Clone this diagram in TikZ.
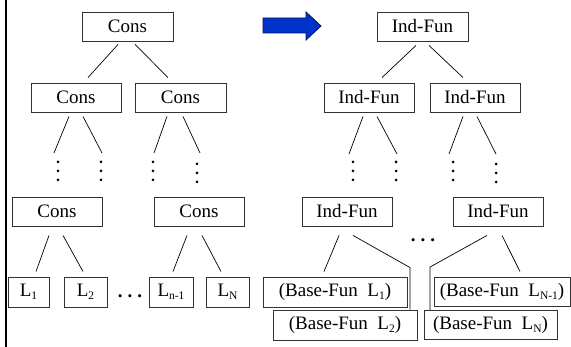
\documentclass[tikz,border=0pt]{standalone}
\usepackage{fontspec}
\setmainfont{Liberation Serif}
\newfontfamily\tnr{Liberation Serif}
\newcommand\lsub[1]{\raisebox{-0.35ex}{\fontsize{11.5}{12}\selectfont #1}}
\begin{document}
\begin{tikzpicture}[x=1pt,y=-1pt,
  box/.style={draw=black!80,line width=0.9pt,inner sep=0pt,minimum height=29pt,
    font=\tnr\fontsize{19}{21}\selectfont},
  conn/.style={line width=0.7pt,black},
  dotmark/.style={fill=black}]
\useasboundingbox (0,0) rectangle (571,347);
% left rule
\draw[line width=2.5pt] (6,0) -- (6,347);
% blue arrow
\filldraw[fill={rgb,255:red,0;green,51;blue,204},draw={rgb,255:red,0;green,20;blue,90},line width=0.8pt]
  (263,18) -- (306,18) -- (306,12) -- (321,26) -- (306,40) -- (306,33) -- (263,33) -- cycle;

% ---------------- left tree ----------------
\node[box,minimum width=91pt] (c1) at (127.5,26.5) {Cons};
\node[box,minimum width=90pt] (c2l) at (76,97.5) {Cons};
\node[box,minimum width=91pt] (c2r) at (180.5,97.5) {Cons};
\node[box,minimum width=90pt] (c3l) at (57,211.5) {Cons};
\node[box,minimum width=90pt] (c3r) at (199,211.5) {Cons};
\node[box,minimum width=41pt,minimum height=30pt] (l1) at (28.5,292) {L\lsub{1}};
\node[box,minimum width=43pt,minimum height=30pt] (l2) at (85.5,292) {L\lsub{2}};
\node[box,minimum width=44pt,minimum height=30pt] (ln1) at (171,292) {L\lsub{n-1}};
\node[box,minimum width=43pt,minimum height=30pt] (ln) at (227.5,292) {L\lsub{N}};
\node[font=\tnr\fontsize{19}{20}\bfseries] (ldots) at (130,296) {.\hspace{5pt}.\hspace{5pt}.};

% dot columns
\coordinate (d1) at (58,171);
\coordinate (d2) at (101,171);
\coordinate (d3) at (153,171);
\coordinate (d4) at (197,173);
\coordinate (e1) at (353,171);
\coordinate (e2) at (396,171);
\coordinate (e3) at (453,171);
\coordinate (e4) at (496,173);
\foreach \d in {d1,d2,d3,d4,e1,e2,e3,e4}{
  \foreach \dy in {-9,0,9}{
    \fill[dotmark] ([yshift=\dy pt]\d) circle (1.5pt);
  }
}

\draw[conn] ([xshift=-9.5pt,yshift=-3pt]c1.south) -- ([xshift=12pt,yshift=5pt]c2l.north);
\draw[conn] ([xshift=7.5pt,yshift=-3pt]c1.south) -- ([xshift=-12.5pt,yshift=5pt]c2r.north);
\draw[conn] ([xshift=-7pt,yshift=-4pt]c2l.south) -- ([xshift=-4pt,yshift=18pt]d1);
\draw[conn] ([xshift=7pt,yshift=-4pt]c2l.south) -- ([xshift=1pt,yshift=18pt]d2);
\draw[conn] ([xshift=-13.5pt,yshift=-4pt]c2r.south) -- ([xshift=1pt,yshift=18pt]d3);
\draw[conn] ([xshift=2.5pt,yshift=-4pt]c2r.south) -- ([xshift=3pt,yshift=20pt]d4);
\draw[conn] ([xshift=-8pt,yshift=-9pt]c3l.south) -- ([xshift=7.5pt,yshift=5pt]l1.north);
\draw[conn] ([xshift=6pt,yshift=-9pt]c3l.south) -- ([xshift=-2.5pt,yshift=5pt]l2.north);
\draw[conn] ([xshift=-12pt,yshift=-9pt]c3r.south) -- ([xshift=2pt,yshift=5pt]ln1.north);
\draw[conn] ([xshift=3pt,yshift=-9pt]c3r.south) -- ([xshift=-6.5pt,yshift=5pt]ln.north);

% ---------------- right tree ----------------
\node[box,minimum width=91pt] (f1) at (422.5,26.5) {Ind-Fun};
\node[box,minimum width=90pt] (f2l) at (369,97.5) {Ind-Fun};
\node[box,minimum width=90pt] (f2r) at (475,97.5) {Ind-Fun};
\node[box,minimum width=90pt] (f3l) at (347,211.5) {Ind-Fun};
\node[box,minimum width=90pt] (f3r) at (498,211.5) {Ind-Fun};
\node[box,minimum width=144pt,minimum height=30pt] (b1) at (335,292) {(Base-Fun\ \ L\lsub{1})};
\node[box,minimum width=144pt,minimum height=30pt] (b2) at (345,325) {(Base-Fun\ \ L\lsub{2})};
\node[box,minimum width=136pt] (bn1) at (502,291.5) {(Base-Fun\ \ L\lsub{N-1})};
\node[box,minimum width=133pt] (bn) at (490.5,325) {(Base-Fun\ \ L\lsub{N})};
\node[font=\tnr\fontsize{19}{20}\bfseries] (rdots) at (423,240) {.\hspace{5pt}.\hspace{5pt}.};

\draw[conn] ([xshift=-6.5pt,yshift=-4pt]f1.south) -- ([xshift=13pt,yshift=5pt]f2l.north);
\draw[conn] ([xshift=6.5pt,yshift=-4pt]f1.south) -- ([xshift=-12pt,yshift=5pt]f2r.north);
\draw[conn] ([xshift=-6pt,yshift=-4pt]f2l.south) -- ([xshift=-4pt,yshift=17pt]e1);
\draw[conn] ([xshift=8pt,yshift=-4pt]f2l.south) -- ([xshift=1pt,yshift=17pt]e2);
\draw[conn] ([xshift=-12pt,yshift=-4pt]f2r.south) -- ([xshift=-4pt,yshift=17pt]e3);
\draw[conn] ([xshift=2pt,yshift=-4pt]f2r.south) -- ([xshift=0pt,yshift=19pt]e4);
\draw[conn] ([xshift=-8pt,yshift=-9pt]f3l.south) -- ([xshift=-11pt,yshift=5pt]b1.north);
\draw[conn] ([xshift=6pt,yshift=-9pt]f3l.south) -- ([xshift=65pt,yshift=42pt]b2.north) -- ([xshift=65pt]b2.north);
\draw[conn] ([xshift=-11pt,yshift=-9pt]f3r.south) -- ([xshift=-60.5pt,yshift=43pt]bn.north) -- ([xshift=-60.5pt]bn.north);
\draw[conn] ([xshift=4pt,yshift=-9pt]f3r.south) -- ([xshift=18pt,yshift=5pt]bn1.north);
\end{tikzpicture}
\end{document}
